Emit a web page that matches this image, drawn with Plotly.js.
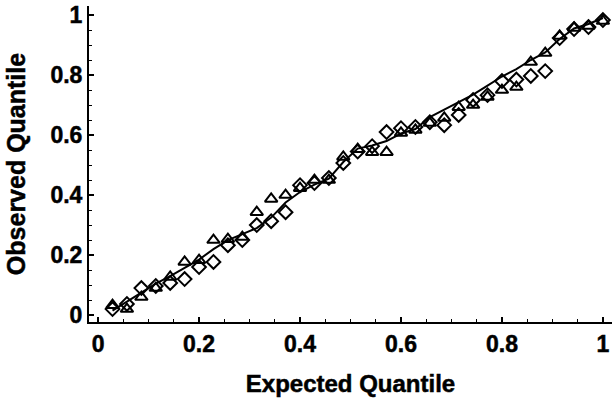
<!DOCTYPE html>
<html>
<head>
<meta charset="utf-8">
<script src="https://cdn.plot.ly/plotly-3.0.1.min.js"></script>
<style>
  html, body { margin: 0; padding: 0; background: #fff; }
  #chart { width: 612px; height: 407px; }
  /* heavier lettering for tick labels and axis titles */
  #chart .xtick text, #chart .ytick text,
  #chart .xtitle, #chart .ytitle { stroke: #000; stroke-width: 0.5px; }
</style>
</head>
<body>
<div id="chart"></div>
<script>
// Expected quantiles: i/35 for i = 1..35
const expected = [
  1/35, 2/35, 3/35, 4/35, 5/35, 6/35, 7/35, 8/35, 9/35, 10/35,
  11/35, 12/35, 13/35, 14/35, 15/35, 16/35, 17/35, 18/35, 19/35, 20/35,
  21/35, 22/35, 23/35, 24/35, 25/35, 26/35, 27/35, 28/35, 29/35, 30/35,
  31/35, 32/35, 33/35, 34/35, 35/35
];

// Observed quantiles, sample A (diamonds)
const observedA = [
  0.020, 0.037, 0.090, 0.097, 0.107, 0.120, 0.160, 0.177, 0.233, 0.250,
  0.300, 0.313, 0.343, 0.433, 0.440, 0.457, 0.507, 0.545, 0.563, 0.610,
  0.623, 0.627, 0.643, 0.633, 0.667, 0.717, 0.733, 0.780, 0.785, 0.797,
  0.813, 0.923, 0.953, 0.960, 0.983
];

// Observed quantiles, sample B (triangles)
const observedB = [
  0.033, 0.020, 0.060, 0.090, 0.127, 0.177, 0.183, 0.250, 0.253, 0.260,
  0.343, 0.387, 0.400, 0.423, 0.450, 0.450, 0.527, 0.553, 0.543, 0.543,
  0.607, 0.617, 0.640, 0.657, 0.693, 0.700, 0.727, 0.750, 0.760, 0.843,
  0.873, 0.930, 0.957, 0.963, 0.980
];

// Pooled quantile curve (solid line)
const pooled = [
  0.015, 0.045, 0.075, 0.105, 0.130, 0.157, 0.185, 0.220, 0.250, 0.270,
  0.290, 0.325, 0.375, 0.410, 0.435, 0.455, 0.510, 0.555, 0.565, 0.580,
  0.605, 0.620, 0.660, 0.685, 0.710, 0.735, 0.765, 0.795, 0.820, 0.850,
  0.875, 0.920, 0.955, 0.970, 0.990
];

const tickVals = [0, 0.2, 0.4, 0.6, 0.8, 1];
const tickText = ['0', '0.2', '0.4', '0.6', '0.8', '1'];

const FONT = 'Liberation Sans, Arial, Helvetica, sans-serif';

const traces = [
  {
    x: expected, y: pooled, type: 'scatter', mode: 'lines',
    line: { color: '#000', width: 2 }, hoverinfo: 'skip', cliponaxis: false
  },
  {
    x: expected, y: observedA, type: 'scatter', mode: 'markers',
    marker: { symbol: 'diamond-open', size: 10.5, color: '#000', line: { width: 2, color: '#000' } },
    cliponaxis: false
  },
  {
    x: expected, y: observedB, type: 'scatter', mode: 'markers',
    marker: { symbol: 'triangle-up-open', size: 11, color: '#000', line: { width: 2, color: '#000' } },
    cliponaxis: false
  }
];

const axisCommon = {
  showline: true, linecolor: '#000', linewidth: 2,
  showgrid: false, zeroline: false,
  ticks: 'inside', ticklen: 5, tickwidth: 1.5, tickcolor: '#000',
  tickvals: tickVals, ticktext: tickText,
  tickfont: { family: FONT, size: 23, color: '#000', weight: 'bold' },
  minor: { ticks: 'inside', ticklen: 3, tickwidth: 1, tickcolor: '#000', dtick: 0.05, showgrid: false }
};

const layout = {
  width: 612, height: 407,
  margin: { l: 89, r: 0, t: 6, b: 85 },
  paper_bgcolor: '#fff', plot_bgcolor: '#fff',
  showlegend: false,
  xaxis: Object.assign({}, axisCommon, {
    range: [-0.018, 1.018],
    title: { text: 'Expected Quantile', standoff: 20,
             font: { family: FONT, size: 24, color: '#000', weight: 'bold' } }
  }),
  yaxis: Object.assign({}, axisCommon, {
    range: [-0.023, 1.03],
    title: { text: 'Observed Quantile', standoff: 18,
             font: { family: FONT, size: 25, color: '#000', weight: 'bold' } }
  })
};

Plotly.newPlot('chart', traces, layout, { displayModeBar: false, staticPlot: true });
</script>
</body>
</html>
